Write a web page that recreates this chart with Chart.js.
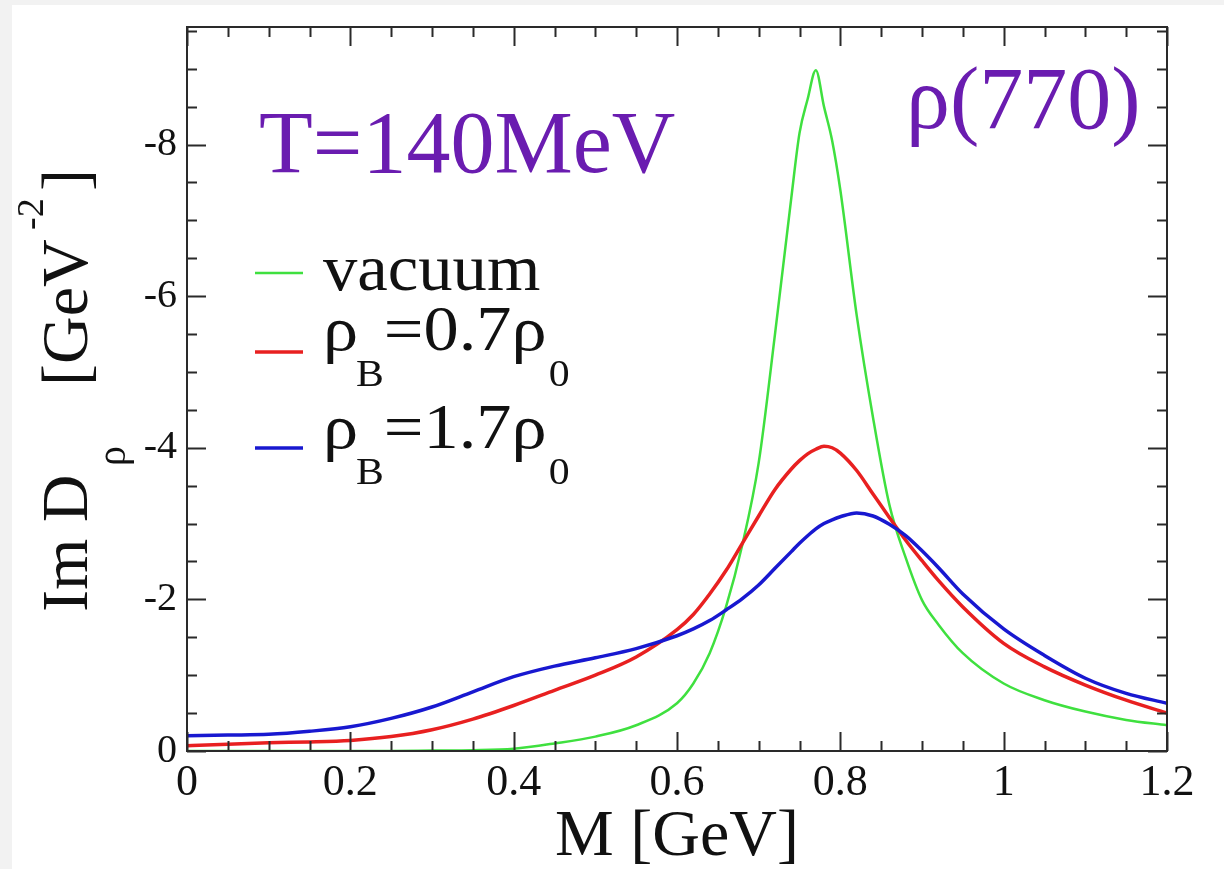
<!DOCTYPE html>
<html>
<head>
<meta charset="utf-8">
<script src="https://cdn.jsdelivr.net/npm/chart.js@4.4.0/dist/chart.umd.min.js"></script>
<style>
html,body{margin:0;padding:0;background:#f2f2f2;}
canvas{display:block;}
</style>
</head>
<body>
<canvas id="c" width="1224" height="869"></canvas>
<script>
// ---- data ----
const massGeV = [0, 0.05, 0.1, 0.15, 0.2, 0.25, 0.3, 0.35, 0.4, 0.45, 0.5, 0.55, 0.6, 0.62, 0.64, 0.66, 0.68, 0.70, 0.72, 0.74, 0.75, 0.76, 0.77, 0.78, 0.79, 0.80, 0.82, 0.84, 0.86, 0.88, 0.90, 0.92, 0.95, 1.0, 1.05, 1.1, 1.15, 1.2];
const vacuum = [0, 0, 0, 0, 0, 0, -0.005, -0.01, -0.03, -0.1, -0.19, -0.34, -0.63, -0.89, -1.29, -1.9, -2.72, -3.8, -5.5, -7.3, -8.15, -8.6, -8.98, -8.5, -8.05, -7.4, -5.75, -4.4, -3.25, -2.55, -1.99, -1.67, -1.29, -0.89, -0.67, -0.52, -0.41, -0.34];
const rhoB07 = [-0.07, -0.09, -0.11, -0.12, -0.14, -0.19, -0.28, -0.42, -0.6, -0.8, -1.0, -1.24, -1.6, -1.8, -2.07, -2.38, -2.74, -3.1, -3.45, -3.72, -3.83, -3.92, -3.98, -4.02, -4.0, -3.93, -3.7, -3.39, -3.08, -2.78, -2.51, -2.25, -1.9, -1.42, -1.11, -0.87, -0.67, -0.5];
const rhoB17 = [-0.2, -0.21, -0.22, -0.26, -0.32, -0.43, -0.58, -0.78, -0.98, -1.12, -1.23, -1.35, -1.52, -1.61, -1.72, -1.86, -2.01, -2.19, -2.41, -2.63, -2.74, -2.84, -2.93, -3.0, -3.05, -3.09, -3.14, -3.1, -2.99, -2.84, -2.64, -2.42, -2.07, -1.61, -1.26, -0.96, -0.76, -0.63];
const xTickValues = [0, 0.2, 0.4, 0.6, 0.8, 1, 1.2];
const yTickValues = [-8, -6, -4, -2, 0];
const seriesLabels = ['vacuum', 'ρB=0.7ρ0', 'ρB=1.7ρ0'];

const SERIF = "'Liberation Serif','Times New Roman',Times,serif";
const GREEN = '#3fe03f', RED = '#e82020', BLUE = '#1818d0', PURPLE = '#6a1cb0', AXIS = '#2a2a2a';

function pts(ys){ return massGeV.map((m,i)=>({x:m, y:ys[i]})); }

// background: light grey margin + white card
const bgPlugin = {
  id:'bg',
  beforeDraw(chart){
    const c = chart.ctx;
    c.save();
    c.fillStyle = '#f2f2f2';
    c.fillRect(0,0,chart.width,chart.height);
    c.fillStyle = '#ffffff';
    c.fillRect(12,5,chart.width-12,chart.height-5);
    c.restore();
  }
};

// frame with inward ticks on all four sides
const framePlugin = {
  id:'frame',
  afterDatasetsDraw(chart){
    const c = chart.ctx, a = chart.chartArea;
    const xs = chart.scales.x, ys = chart.scales.y;
    const MAJ = 19, MIN = 10;
    c.save();
    c.strokeStyle = AXIS;
    c.lineWidth = 2;
    c.strokeRect(a.left, a.top, a.right-a.left, a.bottom-a.top);
    c.beginPath();
    for (let i=0;i<=24;i++){
      const v = i*0.05;
      const px = Math.round(xs.getPixelForValue(v))+0.5;
      const L = (i%4===0)?MAJ:MIN;
      c.moveTo(px,a.bottom); c.lineTo(px,a.bottom-L);
      c.moveTo(px,a.top); c.lineTo(px,a.top+L);
    }
    for (let i=0;i<=19;i++){
      const v = -i*0.5;
      const py = Math.round(ys.getPixelForValue(v))+0.5;
      const L = (i%4===0)?MAJ:MIN;
      c.moveTo(a.left,py); c.lineTo(a.left+L,py);
      c.moveTo(a.right,py); c.lineTo(a.right-L,py);
    }
    c.stroke();
    c.restore();
  }
};

function drawRuns(c, x, y, runs, sx){
  c.save();
  c.translate(x, y);
  c.scale(sx, 1);
  let cx = 0;
  for (const r of runs){
    c.font = r.size + 'px ' + SERIF;
    c.fillText(r.t, cx + (r.dx||0), (r.dy||0));
    cx += c.measureText(r.t).width + (r.dx||0);
  }
  c.restore();
}

const textPlugin = {
  id:'texts',
  afterDraw(chart){
    const c = chart.ctx;
    c.save();
    c.textBaseline = 'alphabetic';
    c.textAlign = 'left';
    // annotations
    c.fillStyle = PURPLE;
    c.font = '88px ' + SERIF;
    c.fillText('T=140MeV', 259, 172);
    c.fillText('ρ(770)', 906, 128);

    // legend
    const rows = [
      {color:GREEN, ly:273, by:290, width:2.5, sx:1.04, runs:[{t:'vacuum', size:66}]},
      {color:RED, ly:352, by:350, width:3.5, sx:1.1, runs:[{t:'ρ',size:64},{t:'B',size:38,dy:36,dx:-2},{t:'=0.7',size:64},{t:'ρ',size:64},{t:'0',size:38,dy:36,dx:2}]},
      {color:BLUE, ly:448, by:448, width:3.5, sx:1.1, runs:[{t:'ρ',size:64},{t:'B',size:38,dy:36,dx:-2},{t:'=1.7',size:64},{t:'ρ',size:64},{t:'0',size:38,dy:36,dx:2}]}
    ];
    for (const r of rows){
      c.strokeStyle = r.color; c.lineWidth = r.width;
      c.beginPath(); c.moveTo(255, r.ly); c.lineTo(303, r.ly); c.stroke();
      c.fillStyle = '#111';
      drawRuns(c, 323, r.by, r.runs, r.sx);
    }

    // rotated y-axis title: Im D_rho [GeV^-2]
    c.translate(87, 612);
    c.rotate(-Math.PI/2);
    c.fillStyle = '#111';
    const yt = [
      {t:'Im D', size:66, at:0, dy:0},
      {t:'ρ', size:40, at:146, dy:38},
      {t:'[GeV', size:66, at:226, dy:0},
      {t:'-2', size:38, at:382, dy:-44},
      {t:']', size:66, at:421, dy:0}
    ];
    for (const r of yt){
      c.font = r.size + 'px ' + SERIF;
      c.fillText(r.t, r.at, r.dy);
    }
    c.restore();
  }
};

new Chart(document.getElementById('c'), {
  type:'line',
  data:{
    datasets:[
      {label:seriesLabels[0], data:pts(vacuum), borderColor:GREEN, borderWidth:2.5, pointRadius:0, cubicInterpolationMode:'monotone', fill:false, order:2},
      {label:seriesLabels[1], data:pts(rhoB07), borderColor:RED, borderWidth:3.5, pointRadius:0, cubicInterpolationMode:'monotone', fill:false, order:1},
      {label:seriesLabels[2], data:pts(rhoB17), borderColor:BLUE, borderWidth:3.5, pointRadius:0, cubicInterpolationMode:'monotone', fill:false, order:0}
    ]
  },
  options:{
    responsive:false,
    animation:false,
    devicePixelRatio:1,
    layout:{padding:{left:0, top:27, right:57, bottom:0}},
    plugins:{legend:{display:false}, tooltip:{enabled:false}},
    scales:{
      x:{
        type:'linear', min:0, max:1.2,
        afterBuildTicks(s){ s.ticks = xTickValues.map(v=>({value:v})); },
        afterFit(s){ s.height = 118; s.paddingLeft = 0; s.paddingRight = 0; },
        grid:{display:false, drawTicks:false},
        border:{display:false},
        ticks:{color:'#111', padding:6, maxRotation:0, autoSkip:false, font:{family:SERIF, size:44},
               callback:(v)=>String(v)},
        title:{display:true, text:'M [GeV]', color:'#111', font:{family:SERIF, size:66, lineHeight:1}, padding:{top:0,bottom:-2}}
      },
      y:{
        type:'linear', min:-9.55, max:0, reverse:true,
        afterBuildTicks(s){ s.ticks = yTickValues.map(v=>({value:v})); },
        afterFit(s){ s.width = 187; s.paddingTop = 0; s.paddingBottom = 0; },
        grid:{display:false, drawTicks:false},
        border:{display:false},
        ticks:{color:'#111', padding:10, autoSkip:false, font:{family:SERIF, size:40},
               callback:(v)=>String(v)}
      }
    }
  },
  plugins:[bgPlugin, framePlugin, textPlugin]
});
</script>
</body>
</html>
